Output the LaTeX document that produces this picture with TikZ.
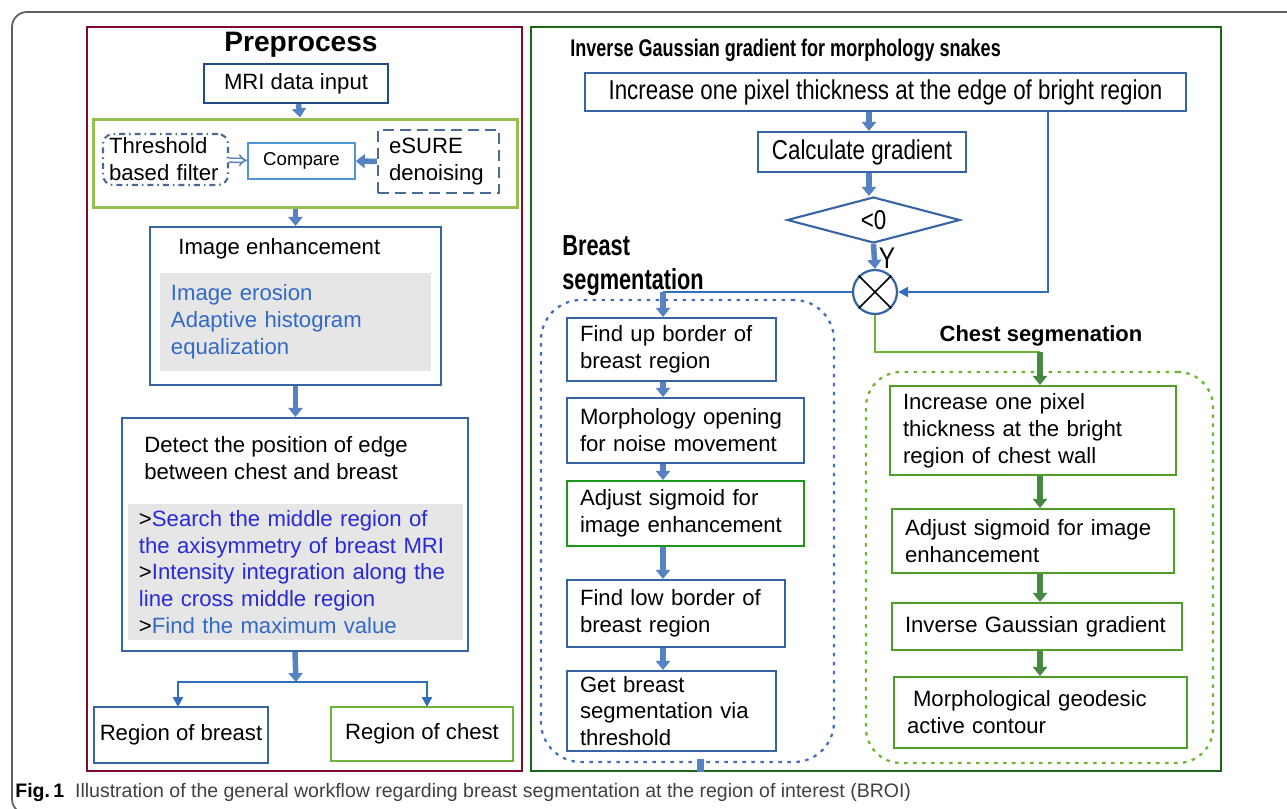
\documentclass[tikz,border=0pt]{standalone}
\usepackage{fontspec}
\setmainfont{Liberation Sans}
\newfontfamily\narrowfont[FakeStretch=0.82]{Liberation Sans}
\newfontfamily\segfamily[FakeStretch=0.75]{Liberation Sans}
\usepackage{xcolor}
\usetikzlibrary{arrows.meta,positioning,shapes.geometric}
\definecolor{prepred}{RGB}{128,10,40}
\definecolor{snakegreen}{RGB}{25,105,25}
\definecolor{boxblue}{RGB}{55,100,165}
\definecolor{mriblue}{RGB}{35,75,130}
\definecolor{dashblue}{RGB}{75,105,150}
\definecolor{compareblue}{RGB}{80,150,210}
\definecolor{pregreen}{RGB}{150,190,80}
\definecolor{regiongreen}{RGB}{110,180,60}
\definecolor{adjgreen}{RGB}{30,150,30}
\definecolor{chestgreen}{RGB}{80,160,40}
\definecolor{dotblue}{RGB}{70,110,180}
\definecolor{dotgreen}{RGB}{110,180,50}
\definecolor{arrowblue}{RGB}{85,130,195}
\definecolor{arrowgreen}{RGB}{70,135,65}
\definecolor{lineblue}{RGB}{50,110,190}
\definecolor{linegreen}{RGB}{110,180,55}
\definecolor{listgray}{RGB}{230,230,230}
\definecolor{listblue}{RGB}{50,105,200}
\definecolor{listviolet}{RGB}{40,40,220}
\definecolor{figframe}{RGB}{95,95,95}
\newcommand{\boxfont}{\fontsize{12.6}{15.3}\selectfont}
\newcommand{\narrowbox}{\narrowfont\fontsize{15.5}{18}\selectfont}
\newcommand{\segfont}{\segfamily\bfseries\fontsize{16.5}{19.3}\selectfont}
\tikzset{
  panel/.style={draw, line width=0.5mm, inner sep=0pt},
  box/.style={draw=boxblue, line width=0.42mm, fill=white, inner xsep=2.6mm, inner ysep=0pt, font=\boxfont, align=left},
  cbox/.style={box, draw=chestgreen},
  greybox/.style={fill=listgray, inner xsep=2.2mm, inner ysep=0pt, font=\boxfont, align=left},
  dotgroup/.style={line width=0.45mm, dash pattern=on 0.7mm off 1.1mm, rounded corners=8mm, inner sep=0pt},
  fatarrow/.style={draw=arrowblue, line width=1.1mm, -{Triangle[length=1.8mm,width=2.8mm]}},
  fatgreen/.style={fatarrow, draw=arrowgreen},
  fatline/.style={draw=arrowblue, line width=1.4mm},
  thinarrow/.style={draw=lineblue, line width=0.45mm, -{Triangle[length=2mm,width=2mm]}},
  thinline/.style={draw=lineblue, line width=0.45mm},
  greenline/.style={draw=linegreen, line width=0.45mm},
}
\begin{document}
\begin{tikzpicture}[x=0.2mm, y=-0.2mm]
  \useasboundingbox (0,0) rectangle (1287,809);
  \draw[figframe, line width=0.35mm, rounded corners=3mm] (1300,12) -- (12,12) -- (12,814) -- (60,814);

  % two panels
  \node[panel, draw=prepred, minimum width=87mm, minimum height=148.8mm] (lpanel) at (304.5,399) {};
  \node[panel, draw=snakegreen, minimum width=138mm, minimum height=148.8mm] (rpanel) at (876,399) {};

  % Preprocess
  \node[font=\bfseries\fontsize{16}{18}\selectfont] (preptitle) at (301,45) {Preprocess};
  \node[box, draw=mriblue, align=center, minimum width=36.8mm, minimum height=7.8mm] (mri) at (296,83.5) {MRI data input};
  \node[draw=pregreen, line width=0.6mm, minimum width=84.6mm, minimum height=17.6mm, inner sep=0pt] (pregrp) at (305.5,163) {};
  \node[box, draw=dashblue, dash pattern=on 1.2mm off 0.8mm on 0.3mm off 0.8mm, rounded corners=2mm, inner xsep=1.2mm, text width=22.6mm, minimum height=10.2mm] (thr) at (165.5,159.5) {Threshold\\based filter};
  \node[box, draw=compareblue, line width=0.3mm, align=center, font=\fontsize{10.6}{12}\selectfont, minimum width=21.4mm, minimum height=7.2mm] (cmp) at (301.5,161) {Compare};
  \node[box, draw=dashblue, dash pattern=on 2.2mm off 1.2mm, inner xsep=2.2mm, text width=19.8mm, minimum height=12.6mm] (esure) at (438.5,161.5) {eSURE\\denoising};
  \draw[draw=arrowblue, double, line width=0.3mm, double distance=0.5mm, -{Implies}] (thr) -- (cmp);
  \draw[fatarrow] (esure) -- (cmp);
  \draw[fatarrow] (mri) -- (pregrp);

  \node[box, minimum width=58.2mm, minimum height=31.6mm] (enh) at (295.5,306) {};
  \node[font=\boxfont, anchor=base west, inner sep=0pt] (enhtitle) at (178,254) {Image enhancement};
  \node[greybox, text width=49.8mm, minimum height=19.6mm, text=listblue] (enhlist) at (295.5,322) {Image erosion\\Adaptive histogram\\equalization};
  \draw[fatarrow] (enh.north |- pregrp.south) -- (enh.north);

  \node[box, minimum width=69.2mm, minimum height=46.6mm] (det) at (295,534.5) {};
  \node[font=\boxfont, align=left, anchor=north west, inner sep=0pt] (dettitle) at (144,436) {Detect the position of edge\\between chest and breast};
  \node[greybox, text width=62.6mm, minimum height=27.2mm] (detlist) at (295.5,572) {>\textcolor{listviolet}{Search the middle region of}\\
    \textcolor{listviolet}{the axisymmetry of breast MRI}\\
    >\textcolor{listviolet}{Intensity integration along the}\\
    \textcolor{listviolet}{line cross middle region}\\
    >\textcolor{listblue}{Find the maximum value}};
  \draw[fatarrow] (enh.south) -- (enh.south |- det.north);

  \node[box, align=center, minimum width=34.8mm, minimum height=11.2mm, inner xsep=0pt] (rb) at (181,735) {Region of breast};
  \node[box, draw=regiongreen, align=center, minimum width=36.4mm, minimum height=10.8mm, inner xsep=0pt] (rc) at (422,734) {Region of chest};
  \coordinate (split) at (296,682);
  \draw[fatarrow] (det.south) -- (split);
  \draw[thinarrow] (split) -| (178,707);
  \draw[thinarrow] (split) -| (427,707);

  % morphology snakes
  \node[font=\segfamily\bfseries\fontsize{13.7}{16}\selectfont, anchor=west, inner sep=0pt] (igtitle) at (570,50) {Inverse Gaussian gradient for morphology snakes};
  \node[box, align=center, font=\narrowbox, minimum width=120.2mm, minimum height=7.6mm] (inc) at (885.5,92) {Increase one pixel thickness at the edge of bright region};
  \node[box, align=center, font=\narrowbox, minimum width=41.6mm, minimum height=8mm] (calc) at (862,152) {Calculate gradient};
  \node[box, diamond, align=center, font=\narrowbox, aspect=3.7, minimum width=34.6mm, minimum height=9.2mm, inner sep=0pt] (dia) at (873.5,220) {<0};
  \node[circle, draw=boxblue, line width=0.45mm, minimum size=8.8mm, inner sep=0pt] (ox) at (875,292) {};
  \draw[line width=0.3mm] (ox.45) -- (ox.225) (ox.135) -- (ox.315);
  \coordinate (gcol) at (869,0);
  \draw[fatarrow] (inc.south -| gcol) -- (calc.north -| gcol);
  \draw[fatarrow] (calc.south -| gcol) -- (dia.north -| gcol);
  \draw[fatarrow] (dia.south) -- (ox.north);
  \node[font=\narrowfont\fontsize{17}{19}\selectfont, inner sep=0pt] (ylbl) at (887,258) {Y};
  \coordinate (loopturn) at (1048,292);
  \draw[thinarrow] (inc.south -| loopturn) -- (loopturn) -- (ox.east);

  % breast segmentation
  \node[font=\segfont, align=left, anchor=base west, inner sep=0pt] (bseglbl) at (562,289) {Breast\\segmentation};
  \node[dotgroup, draw=dotblue, minimum width=58.6mm, minimum height=92.4mm] (bgrp) at (687.5,531) {};
  \node[box, text width=36.6mm, minimum height=12.6mm] (fup) at (671.5,349.5) {Find up border of\\breast region};
  \node[box, text width=42.2mm, minimum height=13mm] (morph) at (685.5,430.5) {Morphology opening\\for noise movement};
  \node[box, draw=adjgreen, text width=42.2mm, minimum height=13mm] (adj) at (685.5,513.5) {Adjust sigmoid for\\image enhancement};
  \node[box, text width=38.4mm, minimum height=13.4mm] (flow) at (676,613.5) {Find low border of\\breast region};
  \node[box, text width=36.6mm, minimum height=16mm] (gbr) at (671.5,711) {Get breast\\segmentation via\\threshold};
  \coordinate (bturn) at (663,292);
  \draw[thinline] (ox.west) -- (bturn);
  \draw[fatarrow] (bturn) -- (bturn |- fup.north);
  \draw[fatarrow] (fup.south -| bturn) -- (morph.north -| bturn);
  \draw[fatarrow] (morph.south -| bturn) -- (adj.north -| bturn);
  \draw[fatarrow] (adj.south -| bturn) -- (flow.north -| bturn);
  \draw[fatarrow] (flow.south -| bturn) -- (gbr.north -| bturn);
  \coordinate (stub) at (700,759);
  \draw[fatline] (stub) -- (stub |- rpanel.south);

  % chest segmentation
  \node[font=\bfseries\fontsize{12.5}{15}\selectfont] (cseglbl) at (1041,336) {Chest segmenation};
  \node[dotgroup, draw=dotgreen, rounded corners=7mm, minimum width=69.4mm, minimum height=78.2mm] (cgrp) at (1039.5,567.5) {};
  \node[cbox, text width=52mm, minimum height=17.8mm] (cinc) at (1033,430.5) {Increase one pixel\\thickness at the bright\\region of chest wall};
  \node[cbox, text width=51.2mm, minimum height=12.8mm] (cadj) at (1033,541) {Adjust sigmoid for image\\enhancement};
  \node[cbox, text width=52.8mm, minimum height=9.4mm] (cinv) at (1037,626.5) {Inverse Gaussian gradient};
  \node[cbox, text width=53.4mm, minimum height=14.2mm] (cmorph) at (1040.5,712.5) {\hspace*{1.2mm}Morphological geodesic\\active contour};
  \coordinate (cturn) at (1040,352);
  \draw[greenline] (ox.south) |- (cturn);
  \draw[fatgreen] (cturn) -- (cturn |- cinc.north);
  \draw[fatgreen] (cinc.south -| cturn) -- (cadj.north -| cturn);
  \draw[fatgreen] (cadj.south -| cturn) -- (cinv.north -| cturn);
  \draw[fatgreen] (cinv.south -| cturn) -- (cmorph.north -| cturn);

  % caption
  \node[font=\fontsize{11.1}{13}\selectfont, text=black!75, anchor=base west, inner sep=0pt] (caption) at (15,797) {\textcolor{black}{\bfseries Fig.\,1}\hspace{2.2mm}Illustration of the general workflow regarding breast segmentation at the region of interest (BROI)};
\end{tikzpicture}
\end{document}
